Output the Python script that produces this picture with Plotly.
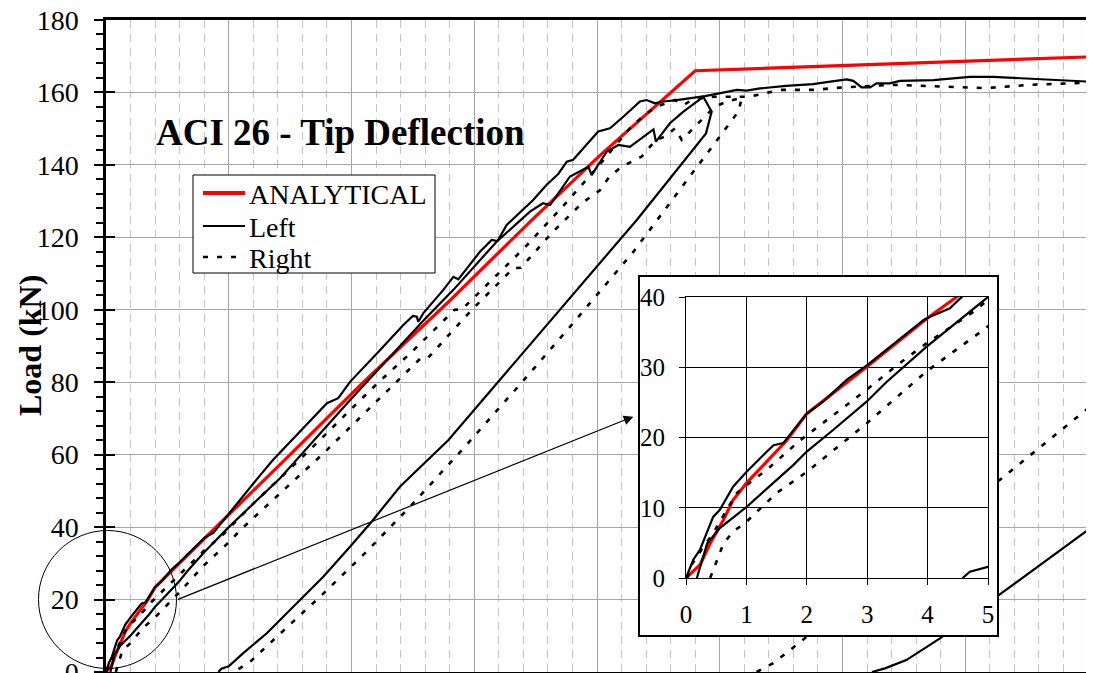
import plotly.graph_objects as go

# ---- data (deflection in mm, load in kN) ----
red_x = [0, 0.23, 0.4, 0.62, 0.78, 1.0, 1.34, 1.67, 2.0, 3.0, 4.0, 4.48, 7.5, 10.4, 14.0, 17.3, 20.1, 22.5, 24.0, 40.0]
red_y = [0, 1.85, 4.9, 8.3, 11.1, 13.5, 16.6, 19.6, 23.4, 30.1, 37.0, 40.0, 60.0, 79.5, 102.5, 124.5, 142.5, 157.0, 166.0, 169.8]

# Left: first loading + plateau
left_a_x = [0, 0.12, 0.23, 0.45, 0.56, 0.78, 1.0, 1.17, 1.34, 1.45, 1.61, 2.0, 2.27, 2.66, 3.0, 3.93, 4.04, 4.37, 4.56,
            5.2, 6.3, 6.8, 7.9, 9.0, 9.46, 9.94, 11.1, 12.11, 12.5, 12.66, 12.72, 12.92, 13.74, 14.15, 14.35, 15.23,
            15.71, 15.95, 16.32, 17.0, 17.4, 17.95, 18.42, 18.77, 19.03, 20.05, 20.53, 21.07, 21.75, 22.02, 22.36,
            22.7, 23.25, 24.4, 25.0, 25.7, 26.1, 26.64, 27.7, 28.8, 29.5, 30.17, 30.44, 30.78, 31.12, 31.39, 31.93,
            32.34, 33.7, 34.51, 35.19, 36.14, 37.77, 40.0]
left_a_y = [0, 2.6, 4.0, 8.7, 9.7, 13.0, 15.1, 16.6, 18.0, 18.9, 19.2, 23.4, 25.1, 28.2, 30.3, 36.7, 37.2, 38.4, 40.0,
            45.5, 54.5, 58.5, 66.5, 74.2, 75.6, 80.1, 88.4, 95.8, 98.3, 98.1, 96.7, 99.0, 105.5, 109.1, 108.4, 116.0,
            119.3, 119.0, 123.4, 127.6, 130.3, 134.5, 137.5, 140.9, 141.4, 149.2, 150.1, 153.3, 157.5, 157.9, 157.0,
            157.5, 157.9, 159.0, 159.8, 160.7, 160.5, 161.1, 161.8, 162.3, 163.0, 163.6, 163.2, 161.4, 161.4, 162.5,
            162.5, 163.2, 163.4, 163.9, 164.3, 164.3, 163.7, 163.0]

# Left: reloading + unloading
left_b_x = [0.18, 0.35, 0.56, 1.0, 1.78, 2.0, 2.44, 2.99, 3.32, 3.98, 5.0, 7.09, 10.0, 12.1, 13.0, 14.15, 15.91,
            17.27, 17.8, 18.09, 18.9, 19.65, 19.78, 20.4, 20.87, 21.34, 22.02, 22.3, 22.4, 22.97, 23.52, 24.33,
            24.67, 24.44, 21.62, 18.49, 15.98, 13.94, 11.98, 10.82, 9.94, 8.85, 7.77, 6.55, 5.59, 5.0, 4.7, 4.58]
left_b_y = [0, 4.9, 7.1, 10.1, 16.1, 18.0, 21.1, 25.1, 27.9, 32.9, 40.0, 53.5, 75.5, 91.0, 97.5, 105.5, 118.8,
            127.1, 129.4, 128.9, 136.8, 139.5, 137.2, 143.7, 145.5, 145.0, 148.3, 149.8, 146.4, 151.5, 154.7, 158.8,
            154.7, 148.7, 124.8, 99.9, 80.2, 64.0, 51.2, 41.5, 34.6, 26.3, 19.0, 10.7, 5.2, 1.6, 0.9, 0]

# Left: final cycle (lower right)
left_c_x = [31.2, 31.73, 32.6, 33.97, 36.28, 40.0]
left_c_y = [0, 1.0, 3.3, 9.3, 20.8, 39.2]

# Right: first loading + plateau
right_a_x = [0.02, 0.09, 0.29, 0.43, 0.84, 1.39, 1.89, 2.33, 2.99, 3.54, 3.98, 4.43, 4.76, 5.0, 6.0, 8.1, 11.1,
             12.4, 14.2, 14.5, 15.8, 17.1, 18.6, 20.1, 21.4, 21.95, 22.43, 22.84, 23.18, 23.52, 23.86, 24.26, 24.74,
             26.2, 27.45, 28.8, 30.03, 32.07, 33.7, 35.87, 37.64, 40.0]
right_a_y = [0, 1.85, 4.5, 6.1, 12.1, 15.8, 19.6, 22.5, 26.8, 30.6, 33.4, 36.0, 37.9, 39.6, 46.5, 60.0, 80.0,
             88.0, 100.0, 100.1, 108.8, 117.5, 128.5, 140.0, 150.6, 153.8, 156.1, 157.0, 157.9, 156.5, 157.9, 158.4,
             158.8, 158.8, 160.7, 160.7, 161.4, 162.1, 161.8, 161.2, 162.1, 162.7]

# Right: reloading + unloading
right_b_x = [0.4, 0.51, 0.62, 0.78, 1.0, 1.5, 2.0, 2.99, 3.98, 4.92, 5.6, 8.8, 11.8, 12.8, 13.1, 14.9, 16.6, 16.9,
             18.2, 19.4, 20.12, 20.5, 21.0, 21.82, 22.4, 22.77, 23.18, 23.45, 23.79, 24.26, 24.8, 25.3, 25.9, 25.76,
             21.48, 18.9, 16.79, 14.62, 12.38, 10.55, 8.72, 6.81, 5.87, 5.32, 5.2]
right_b_y = [0, 2.6, 4.9, 6.6, 8.0, 12.1, 15.1, 22.0, 29.4, 35.3, 40.0, 60.0, 80.0, 86.5, 86.6, 100.0, 111.5, 111.6,
             121.5, 129.5, 133.0, 136.7, 139.5, 142.3, 146.9, 147.8, 150.1, 146.9, 149.2, 152.4, 156.1, 157.5, 158.5,
             154.7, 116.0, 95.3, 78.8, 62.2, 45.6, 32.8, 20.8, 8.8, 2.8, 0.5, 0]

# Right: final cycle (lower right)
right_c_x = [26.5, 27.2, 28.5, 40.0]
right_c_y = [0, 2.5, 9.5, 72.8]

y_ticks = [0, 20, 40, 60, 80, 100, 120, 140, 160, 180]
inset_x_ticks = [0, 1, 2, 3, 4, 5]
inset_y_ticks = [0, 10, 20, 30, 40]

legend_names = ["ANALYTICAL", "Left", "Right"]

# ---- page geometry (pixels on the page) ----
OFF = 8                      # default body margin of the html page
W, H = 1094 - OFF, 673 - OFF
ML, MT = 106 - OFF, 20 - OFF
MR, MB = 6, 1
PW, PH = W - ML - MR, H - MT - MB


def fx(px):
    return (px - OFF - ML) / PW


def fy(py):
    return (OFF + H - MB - py) / PH


FONT = "Liberation Serif"
RED = "#FF0000"
DASH = "5px,9px"
RED_LINE = dict(color=RED, width=3.2)
LEFT_LINE = dict(color="black", width=2.2)
RIGHT_LINE = dict(color="black", width=2.6, dash=DASH)

fig = go.Figure()

series = [
    (red_x, red_y, RED_LINE),
    (left_a_x, left_a_y, LEFT_LINE),
    (left_b_x, left_b_y, LEFT_LINE),
    (left_c_x, left_c_y, LEFT_LINE),
    (right_a_x, right_a_y, RIGHT_LINE),
    (right_b_x, right_b_y, RIGHT_LINE),
    (right_c_x, right_c_y, RIGHT_LINE),
]

for xs, ys, line in series:
    fig.add_trace(go.Scatter(x=xs, y=ys, mode="lines", line=line, showlegend=False, hoverinfo="skip"))

# helper traces so the extra axes get drawn
fig.add_trace(go.Scatter(x=[None], y=[None], xaxis="x", yaxis="y4", showlegend=False, hoverinfo="skip"))
fig.add_trace(go.Scatter(x=[None], y=[None], xaxis="x2", yaxis="y2", showlegend=False, hoverinfo="skip"))

# inset (same data, zoomed)
for xs, ys, line in series:
    fig.add_trace(go.Scatter(x=xs, y=ys, mode="lines", line=line, xaxis="x3", yaxis="y3",
                             showlegend=False, hoverinfo="skip"))

box_x = [fx(640), fx(997)]
box_y = [fy(635), fy(277)]
ins_x = [fx(686), fx(988)]
ins_y = [fy(578), fy(297)]

fig.update_layout(
    width=W, height=H,
    margin=dict(l=ML, r=MR, t=MT, b=MB, autoexpand=False),
    paper_bgcolor="#ffffff",
    plot_bgcolor="#fefefe",
    font=dict(family=FONT, color="black"),
    showlegend=False,
    xaxis=dict(range=[0, 40], dtick=5, showgrid=True, gridcolor="#a6a6a6", gridwidth=1,
               minor=dict(dtick=1, showgrid=True, gridcolor="#c4c4c4", griddash="8px,6px", gridwidth=1),
               showline=True, linecolor="black", linewidth=2.5, mirror=True,
               showticklabels=False, ticks="", zeroline=False, automargin=False),
    yaxis=dict(range=[0, 180], tickvals=y_ticks, showgrid=True, gridcolor="#a6a6a6", gridwidth=1,
               showline=True, linecolor="black", linewidth=2.5, mirror=True,
               ticks="outside", ticklen=9, tickwidth=1.5, tickcolor="black",
               minor=dict(dtick=4, ticks="outside", ticklen=7, tickwidth=1.5, tickcolor="black", showgrid=False),
               tickfont=dict(family=FONT, size=28, color="black"), ticklabelstandoff=10,
               ticklabeloverflow="allow", zeroline=False, automargin=False),
    yaxis4=dict(range=[0, 180], overlaying="y", anchor="x", side="left", tickvals=y_ticks,
                ticks="inside", ticklen=9, tickwidth=1.5, tickcolor="black",
                showticklabels=False, showgrid=False, zeroline=False, showline=False, automargin=False),
    xaxis2=dict(domain=box_x, anchor="y2", range=[0, 1], showgrid=False, zeroline=False,
                showticklabels=False, ticks="", showline=True, mirror=True, linecolor="black", linewidth=1.5,
                automargin=False),
    yaxis2=dict(domain=box_y, anchor="x2", range=[0, 1], showgrid=False, zeroline=False,
                showticklabels=False, ticks="", showline=True, mirror=True, linecolor="black", linewidth=1.5,
                automargin=False),
    xaxis3=dict(domain=ins_x, anchor="y3", range=[0, 5], tickvals=inset_x_ticks,
                showgrid=True, gridcolor="black", gridwidth=1, zeroline=False,
                showline=True, mirror=True, linecolor="black", linewidth=1.2,
                ticks="outside", ticklen=6, tickcolor="black",
                tickfont=dict(family=FONT, size=25, color="black"), ticklabelstandoff=8,
                ticklabeloverflow="allow", automargin=False),
    yaxis3=dict(domain=ins_y, anchor="x3", range=[0, 40], tickvals=inset_y_ticks,
                showgrid=True, gridcolor="black", gridwidth=1, zeroline=False,
                showline=True, mirror=True, linecolor="black", linewidth=1.2,
                ticks="outside", ticklen=6, tickcolor="black",
                tickfont=dict(family=FONT, size=25, color="black"), ticklabelstandoff=9,
                ticklabeloverflow="allow", automargin=False),
)

# legend box with line keys
fig.add_shape(type="rect", xref="paper", yref="paper", x0=fx(193), x1=fx(435), y0=fy(273), y1=fy(175),
              line=dict(color="black", width=1), fillcolor="white", layer="above")
for row_y, line, name in zip([193, 226, 257], [RED_LINE, LEFT_LINE, RIGHT_LINE], legend_names):
    key = dict(line)
    if name == "ANALYTICAL":
        key["width"] = 4
    fig.add_shape(type="line", xref="paper", yref="paper", x0=fx(203), x1=fx(245), y0=fy(row_y), y1=fy(row_y),
                  line=key, layer="above")
    fig.add_annotation(text=name, xref="paper", yref="paper", x=fx(247), y=fy(row_y + 1),
                       xanchor="left", yanchor="middle", showarrow=False,
                       font=dict(family=FONT, size=28, color="black"))

# zoom circle around the origin region
fig.add_shape(type="circle", xref="paper", yref="paper",
              x0=fx(38.5), x1=fx(176.5), y0=fy(668.5), y1=fy(530.5),
              line=dict(color="black", width=1), layer="above")

# arrow from circle to inset
fig.add_annotation(x=21.48, y=70.5, ax=2.87, ay=19.9, xref="x", yref="y", axref="x", ayref="y",
                   text="", showarrow=True, arrowhead=2, arrowsize=1.6, arrowwidth=1.2,
                   arrowcolor="black", standoff=0)

fig.add_annotation(text="<b>ACI 26 - Tip Deflection</b>", xref="paper", yref="paper",
                   x=fx(340), y=fy(132), xanchor="center", yanchor="middle", showarrow=False,
                   font=dict(family=FONT, size=37, color="black"))

fig.add_annotation(text="<b>Load (kN)</b>", xref="paper", yref="paper", textangle=-90,
                   x=fx(30), y=fy(346), xanchor="center", yanchor="middle", showarrow=False,
                   font=dict(family=FONT, size=32, color="black"))

fig.write_html("out.html")
